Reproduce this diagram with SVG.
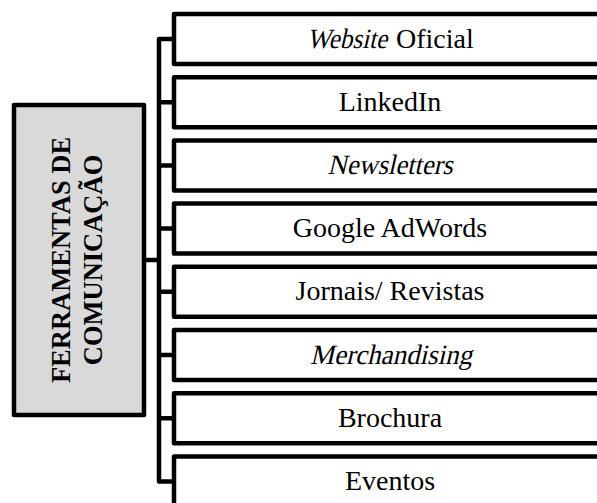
<svg xmlns="http://www.w3.org/2000/svg" width="597" height="503" viewBox="0 0 597 503">
<style>
.box{fill:#ffffff;stroke:#000;stroke-width:4.5;stroke-linejoin:round}
.main{fill:#d9d9d9;stroke:#000;stroke-width:4.5;stroke-linejoin:round}
.lbl{font-family:"Liberation Serif","Times New Roman",serif;font-size:28px;fill:#000;text-anchor:middle}
.st{text-anchor:start}
.mt{font-family:"Liberation Serif","Times New Roman",serif;font-size:26.5px;font-weight:bold;fill:#000;text-anchor:middle}
.con{fill:none;stroke:#000;stroke-width:4.5;stroke-linejoin:round}
</style>
<rect width="597" height="503" fill="#ffffff"/>
<g id="connectors">
<path class="con" d="M174,39 H159 V481.4 H174"/>
<path class="con" d="M144,260 H159"/>
<path class="con" d="M159,102.2 H174 M159,165.4 H174 M159,228.6 H174 M159,291.8 H174 M159,355 H174 M159,418.2 H174"/>
</g>
<g id="main">
<rect class="main" x="14" y="105" width="130" height="310"/>
<text class="mt" transform="translate(70,260) rotate(-90)"><tspan x="0" y="0">FERRAMENTAS DE</tspan><tspan x="0" y="32">COMUNICAÇÃO</tspan></text>
</g>
<g id="n1"><rect class="box" x="174" y="14" width="440" height="50"/><text class="lbl st" transform="translate(307,47.5) skewX(-13)" x="0" y="0" textLength="80" lengthAdjust="spacingAndGlyphs">Website</text><text class="lbl st" x="396" y="47.5">Oficial</text></g>
<g id="n2"><rect class="box" x="174" y="77.2" width="440" height="50"/><text class="lbl" x="390" y="110.7">LinkedIn</text></g>
<g id="n3"><rect class="box" x="174" y="140.4" width="440" height="50"/><text class="lbl" transform="translate(390,173.9) skewX(-13)" x="0" y="0" textLength="125" lengthAdjust="spacingAndGlyphs">Newsletters</text></g>
<g id="n4"><rect class="box" x="174" y="203.6" width="440" height="50"/><text class="lbl" x="390" y="237.1">Google AdWords</text></g>
<g id="n5"><rect class="box" x="174" y="266.8" width="440" height="50"/><text class="lbl" x="390" y="300.3">Jornais/ Revistas</text></g>
<g id="n6"><rect class="box" x="174" y="330" width="440" height="50"/><text class="lbl" transform="translate(391,363.5) skewX(-13)" x="0" y="0" textLength="162" lengthAdjust="spacingAndGlyphs">Merchandising</text></g>
<g id="n7"><rect class="box" x="174" y="393.2" width="440" height="50"/><text class="lbl" x="390" y="426.7">Brochura</text></g>
<g id="n8"><rect class="box" x="174" y="456.4" width="440" height="50"/><text class="lbl" x="390" y="489.9">Eventos</text></g>
</svg>
